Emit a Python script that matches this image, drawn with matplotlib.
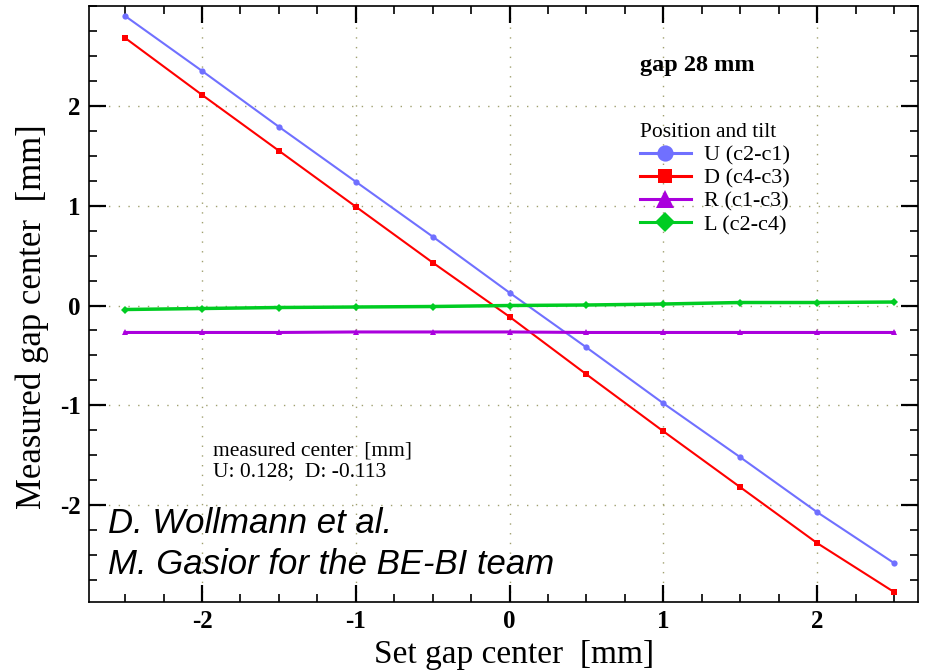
import matplotlib
matplotlib.use("Agg")
import matplotlib.pyplot as plt
from matplotlib.lines import Line2D
from matplotlib.ticker import MultipleLocator

plt.rcParams["axes.unicode_minus"] = False

# Set gap center positions [mm]
set_center = [-2.5, -2.0, -1.5, -1.0, -0.5, 0.0, 0.5, 1.0, 1.5, 2.0, 2.5]

# Measured gap center [mm] for each electrode combination
u_c2_c1 = [2.90, 2.35, 1.79, 1.24, 0.69, 0.128, -0.42, -0.98, -1.52, -2.07, -2.58]
d_c4_c3 = [2.68, 2.11, 1.55, 0.99, 0.43, -0.113, -0.69, -1.26, -1.82, -2.38, -2.87]
r_c1_c3 = [-0.27, -0.27, -0.27, -0.265, -0.265, -0.265, -0.27, -0.27, -0.27, -0.27, -0.27]
l_c2_c4 = [-0.04, -0.03, -0.02, -0.015, -0.01, 0.0, 0.005, 0.015, 0.03, 0.03, 0.035]

series_labels = ["U (c2-c1)", "D (c4-c3)", "R (c1-c3)", "L (c2-c4)"]
x_ticks = [-2, -1, 0, 1, 2]
y_ticks = [-2, -1, 0, 1, 2]

serif = "Liberation Serif"
sans = "Liberation Sans"

fig = plt.figure(figsize=(9.38, 6.7), dpi=100)
ax = fig.add_axes([0.0949, 0.1015, 0.8838, 0.8895])

ax.set_xlim(-2.735, 2.656)
ax.set_ylim(-2.97, 3.0)

# Dotted grid at the major ticks
ax.grid(True, which="major", color="#a0a070", linestyle=(0, (1, 6)), linewidth=1.0)
ax.set_axisbelow(True)

styles = [
    (u_c2_c1, "#7070ff", "o", 1.5, 4.5),
    (d_c4_c3, "#ff0000", "s", 1.5, 4.0),
    (r_c1_c3, "#aa00dd", "^", 2.2, 5.0),
    (l_c2_c4, "#00cc22", "D", 2.5, 4.0),
]
for vals, color, marker, lw, ms in styles:
    ax.plot(set_center, vals, color=color, marker=marker, linewidth=lw,
            markersize=ms, markeredgewidth=0)

ax.set_xticks(x_ticks)
ax.set_yticks(y_ticks)
ax.xaxis.set_minor_locator(MultipleLocator(0.25))
ax.yaxis.set_minor_locator(MultipleLocator(0.25))
ax.tick_params(which="both", direction="in", top=True, right=True, colors="black")
ax.tick_params(which="major", length=12, width=1.6, pad=6)
ax.tick_params(which="minor", length=6, width=1.2)
for lab in ax.get_xticklabels() + ax.get_yticklabels():
    lab.set_fontfamily(serif)
    lab.set_fontweight("bold")
    lab.set_fontsize(18)
for s in ax.spines.values():
    s.set_linewidth(1.2)

ax.set_xlabel("Set gap center  [mm]", fontfamily=serif, fontsize=24, labelpad=0)
ax.set_ylabel("Measured gap center  [mm]", fontfamily=serif, fontsize=25, labelpad=4)
ax.xaxis.set_label_coords(0.513, -0.063)
ax.yaxis.set_label_coords(-0.048, 0.479)

# Legend with larger markers than the plotted points
handles = [
    Line2D([], [], color=c, marker=m, linewidth=2.2, markersize=ms * 2.6, markeredgewidth=0)
    for (_, c, m, _, ms) in styles
]
leg = ax.legend(handles, series_labels, title="Position and tilt",
                loc="upper left", bbox_to_anchor=(0.651, 0.822),
                frameon=False, handlelength=2.3, handletextpad=0.6,
                labelspacing=0.12, borderpad=0.0,
                prop={"family": serif, "size": 16},
                title_fontproperties={"family": serif, "size": 15.5})
leg._legend_box.align = "left"

ax.text(0.665, 0.901, "gap 28 mm", transform=ax.transAxes, fontfamily=serif,
        fontweight="bold", fontsize=17.5, ha="left", va="center")

ax.text(0.149, 0.236, "measured center  [mm]\nU: 0.128;  D: -0.113",
        transform=ax.transAxes, fontfamily=serif, fontsize=15.5,
        fontweight="normal", ha="left", va="center", linespacing=1.15)

ax.text(0.023, 0.132, "D. Wollmann et al.", transform=ax.transAxes,
        fontfamily=sans, fontstyle="italic", fontsize=25, ha="left", va="center")
ax.text(0.023, 0.063, "M. Gasior for the BE-BI team", transform=ax.transAxes,
        fontfamily=sans, fontstyle="italic", fontsize=25, ha="left", va="center")

fig.savefig("out.png", dpi=100)
